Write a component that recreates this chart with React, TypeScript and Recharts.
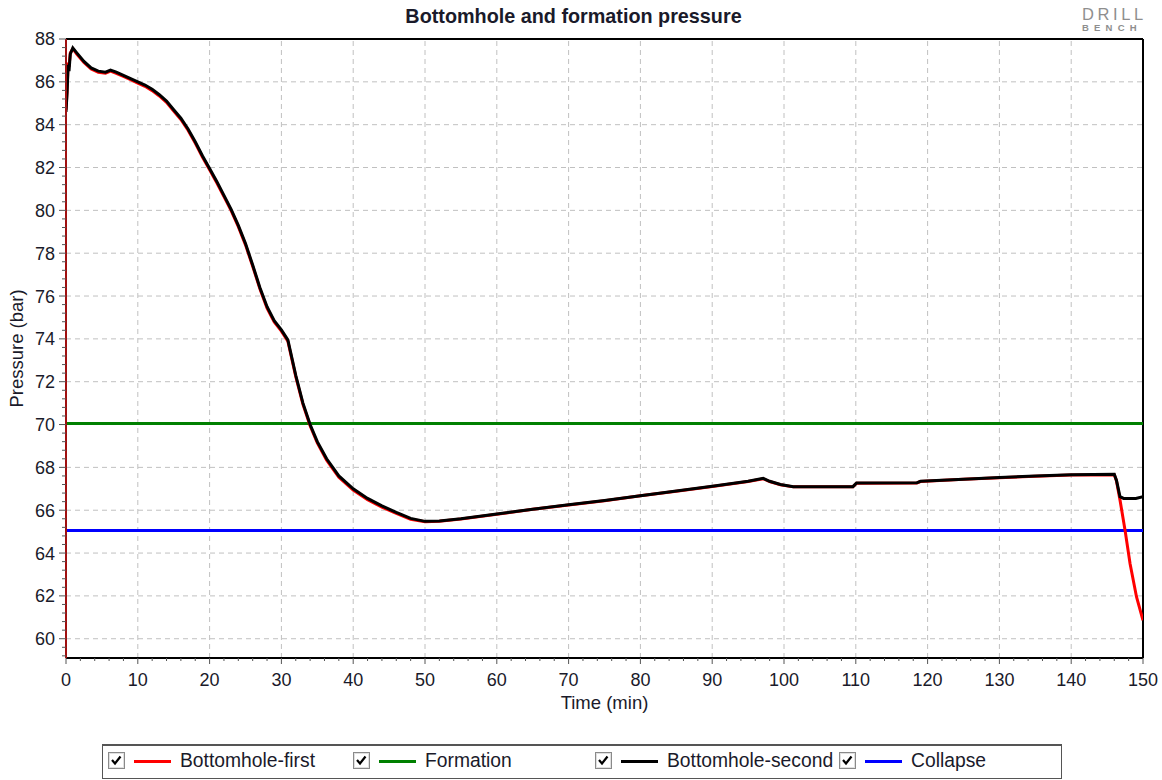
import React from 'react';
import { LineChart, Line, XAxis, YAxis, Legend, ReferenceLine } from 'recharts';

// Bottomhole-second (black)
const secondTime = [
  0, 0.15, 0.3, 0.42, 0.6, 0.95, 1.5, 2.5, 3.5, 4.5, 5.5, 6.2, 7, 8, 9, 10, 11, 12, 13, 14, 15, 16, 17, 18, 19,
  20, 21, 22, 23, 24, 25, 26, 27, 28, 29, 30, 30.9, 32, 33, 34, 35, 36.3, 38, 40, 42, 44, 46, 48, 50, 52, 55,
  60, 65, 70, 75, 80, 85, 90, 95, 97.1, 98, 99.5, 101.3, 109.6, 110.1, 118.5, 119, 125, 130, 135, 140, 146,
  146.3, 146.8, 147.3, 149, 150,
];
const secondPressure = [
  84.6, 85.5, 86.8, 86.5, 87.3, 87.58, 87.35, 86.95, 86.65, 86.5, 86.45, 86.55, 86.45, 86.3, 86.15, 86.0, 85.85,
  85.65, 85.4, 85.1, 84.7, 84.3, 83.8, 83.2, 82.55, 81.95, 81.35, 80.7, 80.05, 79.3, 78.45, 77.45, 76.4, 75.5,
  74.85, 74.42, 73.95, 72.3, 71.0, 70.0, 69.2, 68.4, 67.6, 67.0, 66.55, 66.2, 65.9, 65.62, 65.48, 65.5, 65.6,
  65.82, 66.05, 66.25, 66.45, 66.68, 66.9, 67.12, 67.35, 67.49, 67.35, 67.2, 67.1, 67.1, 67.27, 67.28, 67.35,
  67.45, 67.53, 67.6, 67.65, 67.68, 67.4, 66.63, 66.55, 66.55, 66.63,
];

// Bottomhole-first (red)
const firstTime = [
  0, 0.15, 0.3, 0.42, 0.6, 0.95, 1.5, 2.5, 3.5, 4.5, 5.5, 6.2, 7, 8, 9, 10, 11, 12, 13, 14, 15, 16, 17, 18, 19,
  20, 21, 22, 23, 24, 25, 26, 27, 28, 29, 30, 30.9, 32, 33, 34, 35, 36.3, 38, 40, 42, 44, 46, 48, 50, 52, 55,
  60, 65, 70, 75, 80, 85, 90, 95, 97.1, 98, 99.5, 101.3, 109.6, 110.1, 118.5, 119, 125, 130, 135, 140, 146,
  146.3, 146.8, 147.5, 148.2, 149.1, 150,
];
const firstPressure = [
  84.7, 85.6, 86.9, 86.7, 87.35, 87.55, 87.3, 86.9, 86.6, 86.45, 86.4, 86.5, 86.4, 86.25, 86.1, 85.94, 85.79,
  85.59, 85.34, 85.04, 84.64, 84.24, 83.74, 83.14, 82.49, 81.89, 81.29, 80.64, 79.99, 79.24, 78.39, 77.39, 76.34,
  75.44, 74.79, 74.36, 73.89, 72.24, 70.94, 69.94, 69.14, 68.34, 67.54, 66.94, 66.49, 66.14, 65.85, 65.58, 65.46,
  65.48, 65.59, 65.81, 66.04, 66.24, 66.44, 66.67, 66.89, 67.11, 67.34, 67.47, 67.34, 67.19, 67.09, 67.09, 67.26,
  67.27, 67.34, 67.44, 67.52, 67.59, 67.64, 67.66, 67.38, 66.47, 65.07, 63.5, 61.95, 60.86,
];

const formationTime = [0, 150];
const formationPressure = [70.05, 70.05];
const collapseTime = [0, 150];
const collapsePressure = [65.05, 65.05];

const xMajor = [10, 20, 30, 40, 50, 60, 70, 80, 90, 100, 110, 120, 130, 140];
const yMajor = [60, 62, 64, 66, 68, 70, 72, 74, 76, 78, 80, 82, 84, 86];

const X_DOMAIN: [number, number] = [0, 150];
const Y_DOMAIN: [number, number] = [59.1, 88];

// minor ticks: every 2 min, every 0.4 bar
const xTicks: number[] = [];
for (let v = 0; v <= 150; v += 2) xTicks.push(v);
const yTicks: number[] = [];
for (let i = 0; i <= 72; i++) yTicks.push(Math.round((59.2 + i * 0.4) * 10) / 10);

const isMultiple = (v: number, step: number) => Math.abs(v / step - Math.round(v / step)) < 1e-6;

const toRows = (t: number[], p: number[]) => t.map((x, i) => ({ t: x, p: p[i] }));
const firstData = toRows(firstTime, firstPressure);
const secondData = toRows(secondTime, secondPressure);
const formationData = toRows(formationTime, formationPressure);
const collapseData = toRows(collapseTime, collapsePressure);

const FONT = '"Liberation Sans", Arial, sans-serif';
const TEXT = '#1a1a2a';
const GRID = '#c0c0c0';

const XTick = (props: any) => {
  const { x, y, payload } = props;
  const major = isMultiple(payload.value, 10);
  return (
    <g>
      <line x1={x} x2={x} y1={y} y2={y + (major ? 6 : 3)} stroke="#555" strokeWidth={1} />
      {major && (
        <text x={x} y={y + 28} textAnchor="middle" fontFamily={FONT} fontSize={18} fill={TEXT}>
          {payload.value}
        </text>
      )}
    </g>
  );
};

const YTick = (props: any) => {
  const { x, y, payload } = props;
  const major = isMultiple(payload.value, 2);
  return (
    <g>
      <line x1={x - (major ? 7 : 4)} x2={x} y1={y} y2={y} stroke="#555" strokeWidth={1} />
      {major && (
        <text x={x - 11} y={y} dy="0.36em" textAnchor="end" fontFamily={FONT} fontSize={18} fill={TEXT}>
          {payload.value}
        </text>
      )}
    </g>
  );
};

const XTitle = (props: any) => {
  const { viewBox } = props;
  const cx = viewBox.x + viewBox.width / 2;
  return (
    <text x={cx} y={viewBox.y + 51} textAnchor="middle" fontFamily={FONT} fontSize={18.5} fill={TEXT}>
      Time (min)
    </text>
  );
};

const YTitle = (props: any) => {
  const { viewBox } = props;
  const cx = viewBox.x + 17;
  const cy = viewBox.y + viewBox.height / 2;
  return (
    <text
      x={cx}
      y={cy}
      dy="0.35em"
      transform={`rotate(-90 ${cx} ${cy})`}
      textAnchor="middle"
      fontFamily={FONT}
      fontSize={18.5}
      fill={TEXT}
    >
      Pressure (bar)
    </text>
  );
};

const legendItems = [
  { name: 'Bottomhole-first', color: '#ff0000', left: 6 },
  { name: 'Formation', color: '#008000', left: 251 },
  { name: 'Bottomhole-second', color: '#000000', left: 493 },
  { name: 'Collapse', color: '#0000ff', left: 737 },
];

const CheckBox = () => (
  <svg width={17} height={17} style={{ position: 'absolute', left: 0, top: 0 }}>
    <rect x={0.5} y={0.5} width={16} height={16} fill="#fff" stroke="#8a8a8a" />
    <rect x={1.5} y={1.5} width={14} height={14} fill="none" stroke="#e0e0e0" />
    <polyline points="4,8 7,11.5 12.5,4.5" fill="none" stroke="#000" strokeWidth={2.2} />
  </svg>
);

const LegendBox = () => (
  <div
    style={{
      position: 'relative',
      width: 960,
      height: 35,
      boxSizing: 'border-box',
      border: '1px solid #555',
      borderTop: '2px solid #555',
      fontFamily: FONT,
      fontSize: 19.3,
      color: TEXT,
      background: '#fff',
    }}
  >
    {legendItems.map((it) => (
      <div key={it.name} style={{ position: 'absolute', left: it.left - 1, top: 6, height: 18 }}>
        <CheckBox />
        <div style={{ position: 'absolute', left: 26, top: 8, width: 37, height: 3, background: it.color }} />
        <div style={{ position: 'absolute', left: 72, top: -2, whiteSpace: 'nowrap', lineHeight: '22px' }}>{it.name}</div>
      </div>
    ))}
  </div>
);

export default function App() {
  return (
    <div style={{ position: 'absolute', left: 0, top: 0, width: 1162, height: 780, background: '#fff' }}>
      <div
        style={{
          position: 'absolute',
          left: 0,
          width: 1147,
          top: 5,
          textAlign: 'center',
          fontFamily: FONT,
          fontWeight: 'bold',
          fontSize: 19.8,
          lineHeight: '22px',
          color: TEXT,
        }}
      >
        Bottomhole and formation pressure
      </div>
      <div style={{ position: 'absolute', left: 1082, top: 6, color: '#8e8e8e', fontFamily: FONT, lineHeight: 1 }}>
        <div style={{ fontSize: 16.5, letterSpacing: 3.6, fontWeight: 300 }}>DRILL</div>
        <div style={{ fontSize: 9.5, letterSpacing: 5.2, marginTop: 0, fontWeight: 'bold' }}>BENCH</div>
      </div>
      <LineChart
        width={1162}
        height={780}
        margin={{ top: 39, right: 19, bottom: 66, left: 0 }}
        style={{ position: 'absolute', left: 0, top: 0 }}
      >
        {xMajor.map((v) => (
          <ReferenceLine key={`gx${v}`} x={v} stroke={GRID} strokeDasharray="5 4" />
        ))}
        {yMajor.map((v) => (
          <ReferenceLine key={`gy${v}`} y={v} stroke={GRID} strokeDasharray="5 4" />
        ))}
        <XAxis
          dataKey="t"
          type="number"
          domain={X_DOMAIN}
          allowDataOverflow
          ticks={xTicks}
          interval={0}
          tick={<XTick />}
          tickSize={0}
          tickMargin={0}
          tickLine={false}
          height={56}
          axisLine={{ stroke: '#000', strokeWidth: 2 }}
          label={<XTitle />}
        />
        <YAxis
          dataKey="p"
          type="number"
          domain={Y_DOMAIN}
          allowDataOverflow
          ticks={yTicks}
          interval={0}
          tick={<YTick />}
          tickSize={0}
          tickMargin={0}
          tickLine={false}
          width={66}
          axisLine={{ stroke: '#a01010', strokeWidth: 2 }}
          label={<YTitle />}
        />
        <ReferenceLine y={88} stroke="#000" strokeWidth={2} />
        <ReferenceLine x={150} stroke="#000" strokeWidth={2} />
        <Legend
          layout="horizontal"
          verticalAlign="middle"
          align="center"
          content={<LegendBox />}
          wrapperStyle={{ position: 'absolute', left: 102, top: 744, width: 960, height: 35 }}
        />
        <Line data={formationData} dataKey="p" name="Formation" stroke="#008000" strokeWidth={3} dot={false} isAnimationActive={false} type="linear" />
        <Line data={collapseData} dataKey="p" name="Collapse" stroke="#0000ff" strokeWidth={3} dot={false} isAnimationActive={false} type="linear" />
        <Line data={firstData} dataKey="p" name="Bottomhole-first" stroke="#ff0000" strokeWidth={3} dot={false} isAnimationActive={false} type="linear" />
        <Line data={secondData} dataKey="p" name="Bottomhole-second" stroke="#000000" strokeWidth={3} dot={false} isAnimationActive={false} type="linear" />
      </LineChart>
    </div>
  );
}
